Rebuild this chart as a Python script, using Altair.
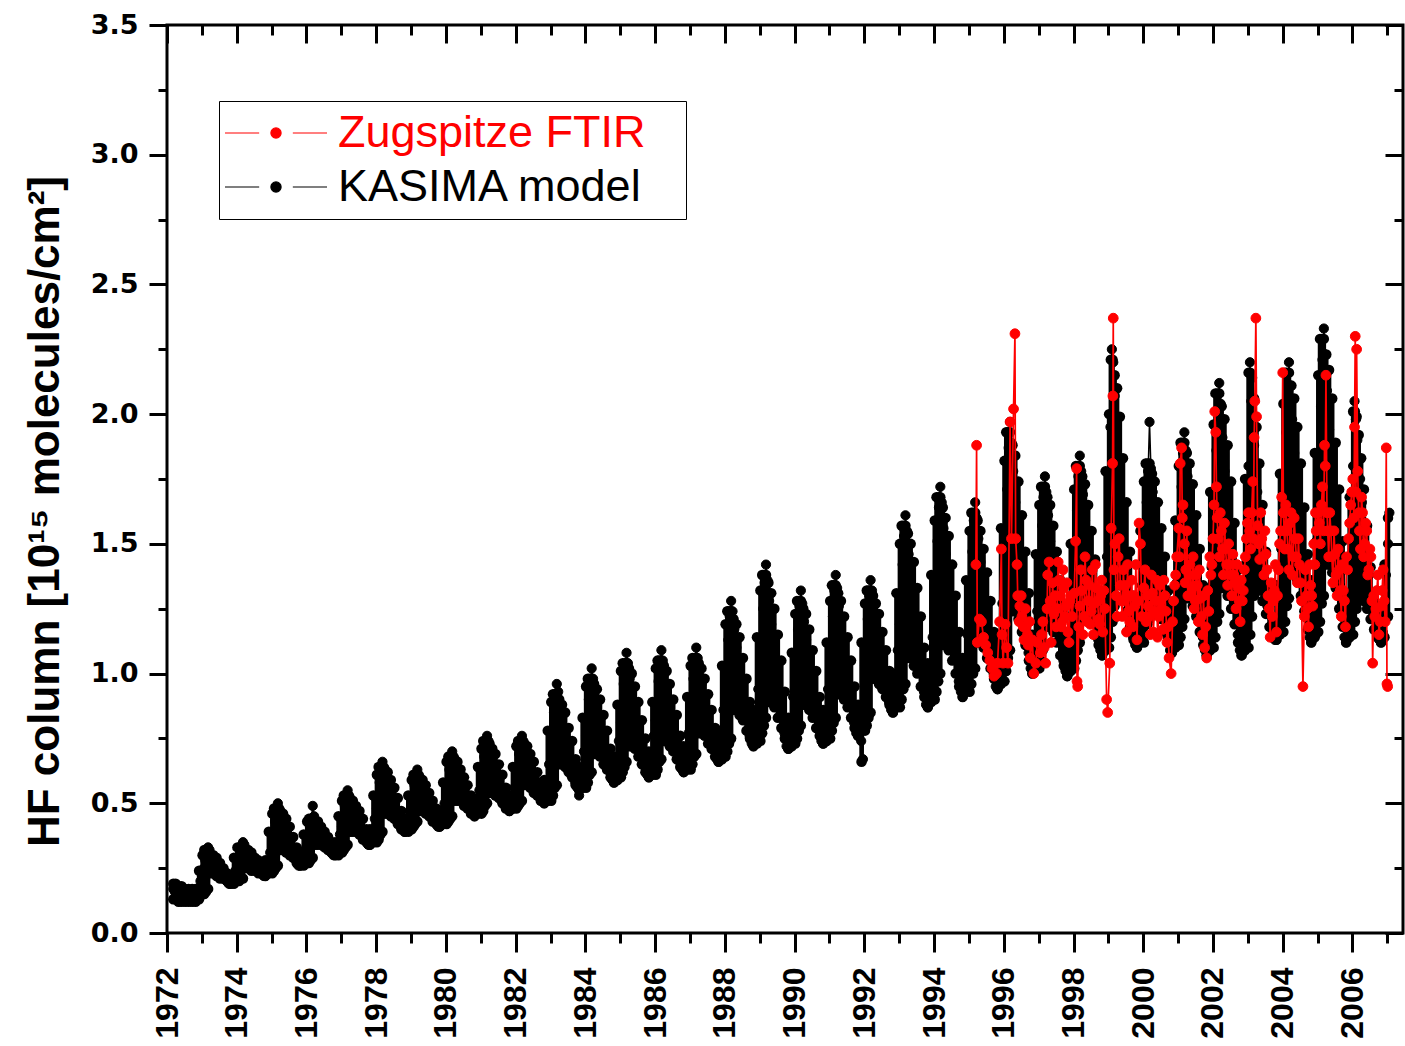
import altair as alt
import pandas as pd

# ---------------- data ----------------
N = None
# KASIMA model: central track of the black trace, at fixed fractions of each year
kasima_frac = [0.02, 0.06, 0.10, 0.14, 0.18, 0.22, 0.27, 0.33, 0.40,
               0.48, 0.56, 0.64, 0.71, 0.77, 0.82, 0.87, 0.91, 0.96]
kasima_mid = {
    1972: [N, N, N, N, .17, .16, .15, .15, .14, .14, .13, .14, .13, .14, .14, .16, .17, .20],
    1973: [.23, .25, .28, .31, .33, .32, .30, .29, .27, .25, .23, .22, .20, .19, .19, .20, .22, .24],
    1974: [.26, .29, .31, .33, .35, .34, .32, .31, .29, .27, .26, .24, .23, .22, .22, .24, .27, .31],
    1975: [.35, .39, .43, .47, .50, .48, .45, .42, .39, .36, .33, .30, .28, .26, .26, .28, .30, .32],
    1976: [.35, .38, .41, .44, .49, .45, .43, .41, .39, .37, .35, .33, .31, .30, .30, .32, .35, .38],
    1977: [.41, .45, .49, .53, .55, .53, .51, .48, .46, .43, .40, .38, .36, .34, .34, .37, .40, .44],
    1978: [.48, .53, .58, .63, .66, .64, .61, .57, .54, .50, .47, .44, .41, .40, .39, .41, .43, .47],
    1979: [.50, .53, .57, .61, .63, .61, .59, .56, .53, .50, .48, .45, .43, .41, .41, .43, .46, .50],
    1980: [.54, .58, .63, .67, .70, .68, .65, .62, .59, .56, .53, .50, .47, .46, .45, .47, .51, .55],
    1981: [.59, .64, .68, .73, .76, .74, .70, .67, .63, .59, .56, .52, .49, .48, .47, .49, .52, .56],
    1982: [.60, .64, .69, .73, .76, .74, .71, .68, .64, .61, .58, .55, .52, .51, .50, .54, .58, .65],
    1983: [.71, .78, .85, .91, .96, .93, .88, .83, .78, .72, .67, .62, .58, .56, .53, .59, .63, .70],
    1984: [.76, .83, .90, .97, 1.02, .98, .93, .88, .82, .76, .71, .66, .62, .59, .58, .62, .67, .74],
    1985: [.81, .88, .96, 1.03, 1.08, 1.04, .98, .93, .86, .80, .74, .69, .64, .61, .60, .64, .69, .76],
    1986: [.82, .89, .97, 1.04, 1.09, 1.05, 1.00, .94, .88, .82, .76, .70, .66, .63, .62, .66, .71, .77],
    1987: [.84, .91, .98, 1.05, 1.10, 1.06, 1.01, .96, .90, .84, .79, .74, .70, .67, .66, .71, .77, .86],
    1988: [.94, 1.03, 1.13, 1.22, 1.28, 1.24, 1.17, 1.10, 1.03, .96, .89, .82, .76, .73, .72, .78, .85, .94],
    1989: [1.04, 1.14, 1.25, 1.35, 1.42, 1.36, 1.28, 1.19, 1.10, 1.01, .92, .84, .77, .72, .71, .76, .82, .91],
    1990: [.98, 1.08, 1.17, 1.26, 1.32, 1.27, 1.20, 1.13, 1.05, .98, .91, .84, .78, .74, .73, .78, .85, .94],
    1991: [1.02, 1.12, 1.22, 1.32, 1.38, 1.33, 1.26, 1.18, 1.10, 1.02, .95, .87, .81, .77, .76, .81, .74, .67],
    1992: [1.03, 1.12, 1.21, 1.30, 1.36, 1.32, 1.26, 1.20, 1.13, 1.06, 1.00, .94, .89, .86, .85, .91, .99, 1.09],
    1993: [1.19, 1.31, 1.42, 1.53, 1.61, 1.55, 1.46, 1.37, 1.28, 1.18, 1.09, 1.00, .93, .88, .87, .94, 1.02, 1.14],
    1994: [1.25, 1.38, 1.51, 1.64, 1.72, 1.66, 1.56, 1.46, 1.36, 1.25, 1.15, 1.06, .97, .93, .91, .97, 1.05, 1.15],
    1995: [1.25, 1.36, 1.47, 1.59, 1.66, 1.60, 1.52, 1.43, 1.34, 1.24, 1.16, 1.07, 1.00, .95, .94, 1.02, 1.13, 1.27],
    1996: [1.40, 1.56, 1.71, 1.87, 1.97, 1.89, 1.78, 1.66, 1.53, 1.41, 1.29, 1.17, 1.08, 1.02, 1.00, 1.06, 1.14, 1.24],
    1997: [1.34, 1.46, 1.57, 1.68, 1.76, 1.70, 1.61, 1.51, 1.41, 1.31, 1.22, 1.13, 1.05, 1.01, .99, 1.06, 1.14, 1.26],
    1998: [1.37, 1.50, 1.63, 1.76, 1.84, 1.78, 1.69, 1.59, 1.49, 1.39, 1.30, 1.21, 1.13, 1.09, 1.07, 1.16, 1.28, 1.45],
    1999: [1.70, 1.95, 2.25, 2.20, 2.07, 1.90, 1.76, 1.62, 1.48, 1.36, 1.27, 1.20, 1.14, 1.11, 1.10, 1.16, 1.24, 1.34],
    2000: [1.44, 1.55, 1.66, 1.78, 1.97, 1.79, 1.70, 1.60, 1.50, 1.40, 1.31, 1.22, 1.14, 1.09, 1.08, 1.15, 1.23, 1.35],
    2001: [1.46, 1.59, 1.72, 1.85, 1.93, 1.86, 1.76, 1.65, 1.54, 1.43, 1.33, 1.22, 1.14, 1.09, 1.07, 1.15, 1.26, 1.41],
    2002: [1.54, 1.70, 1.86, 2.02, 2.12, 2.04, 1.91, 1.78, 1.65, 1.51, 1.39, 1.26, 1.15, 1.09, 1.07, 1.16, 1.27, 1.43],
    2003: [1.80, 2.20, 2.05, 1.95, 1.88, 1.80, 1.70, 1.60, 1.48, 1.36, 1.26, 1.18, 1.14, 1.13, 1.13, 1.22, 1.32, 1.48],
    2004: [1.61, 1.77, 1.93, 2.09, 2.20, 2.11, 1.98, 1.85, 1.71, 1.57, 1.44, 1.31, 1.21, 1.14, 1.12, 1.22, 1.34, 1.51],
    2005: [1.66, 1.85, 2.03, 2.21, 2.33, 2.23, 2.09, 1.94, 1.79, 1.63, 1.48, 1.34, 1.22, 1.14, 1.12, 1.19, 1.29, 1.42],
    2006: [1.80, 2.05, 1.98, 1.90, 1.82, 1.75, 1.66, 1.57, 1.47, 1.38, 1.29, 1.22, 1.16, 1.13, 1.12, 1.16, 1.25, 1.38],
    2007: [1.50, 1.62],
}

# KASIMA model: upper and lower edge of the solid black region
band_frac = [0.02, 0.07, 0.12, 0.18, 0.25, 0.33, 0.42, 0.52, 0.62, 0.72, 0.82, 0.92]
band_high = {
    1972: [N, N, N, .19, .19, .18, .18, .17, .17, .17, .17, .24],
    1973: [.30, .32, .31, .31, .30, .30, .29, .27, .25, .23, .22, .29],
    1974: [.33, .33, .33, .33, .32, .32, .31, .29, .28, .26, .28, .39],
    1975: [.46, .48, .48, .48, .47, .46, .44, .41, .37, .33, .30, .38],
    1976: [.43, .44, .44, .44, .43, .43, .41, .39, .37, .35, .35, .45],
    1977: [.51, .53, .53, .53, .52, .51, .49, .47, .44, .40, .40, .53],
    1978: [.61, .64, .64, .64, .63, .62, .59, .56, .52, .47, .44, .53],
    1979: [.59, .61, .61, .61, .60, .59, .57, .54, .51, .48, .47, .58],
    1980: [.66, .68, .68, .68, .67, .66, .63, .60, .57, .53, .51, .64],
    1981: [.71, .74, .74, .74, .73, .71, .69, .65, .61, .56, .53, .64],
    1982: [.72, .74, .74, .74, .73, .72, .69, .66, .62, .58, .59, .78],
    1983: [.89, .92, .92, .92, .90, .88, .85, .79, .74, .67, .64, .83],
    1984: [.95, .98, .98, .98, .96, .94, .90, .84, .78, .71, .68, .88],
    1985: [1.01, 1.04, 1.04, 1.04, 1.02, 1.00, .95, .89, .82, .75, .70, .89],
    1986: [1.02, 1.05, 1.05, 1.05, 1.03, 1.01, .96, .90, .84, .76, .72, .91],
    1987: [1.03, 1.06, 1.06, 1.06, 1.04, 1.02, .98, .92, .86, .79, .78, 1.03],
    1988: [1.19, 1.24, 1.24, 1.24, 1.21, 1.19, 1.14, 1.06, .98, .89, .86, 1.14],
    1989: [1.32, 1.38, 1.38, 1.38, 1.35, 1.31, 1.25, 1.15, 1.05, .93, .83, 1.08],
    1990: [1.23, 1.28, 1.28, 1.28, 1.25, 1.23, 1.17, 1.09, 1.01, .91, .86, 1.12],
    1991: [1.28, 1.34, 1.34, 1.34, 1.31, 1.28, 1.22, 1.14, 1.05, .95, .88, 1.12],
    1992: [1.27, 1.32, 1.32, 1.32, 1.30, 1.27, 1.23, 1.16, 1.09, 1.01, 1.00, 1.31],
    1993: [1.50, 1.57, 1.57, 1.57, 1.54, 1.50, 1.43, 1.33, 1.22, 1.10, 1.04, 1.38],
    1994: [1.59, 1.68, 1.68, 1.68, 1.64, 1.60, 1.53, 1.42, 1.30, 1.16, 1.06, 1.36],
    1995: [1.55, 1.62, 1.62, 1.62, 1.59, 1.55, 1.48, 1.39, 1.28, 1.16, 1.15, 1.56],
    1996: [1.82, 1.93, 1.93, 1.93, 1.88, 1.84, 1.74, 1.61, 1.47, 1.31, 1.15, 1.46],
    1997: [1.65, 1.72, 1.72, 1.72, 1.68, 1.65, 1.57, 1.47, 1.36, 1.23, 1.16, 1.50],
    1998: [1.71, 1.80, 1.80, 1.80, 1.76, 1.73, 1.65, 1.55, 1.44, 1.31, 1.31, 1.78],
    1999: [2.00, 2.21, 2.21, 2.15, 2.10, 1.99, 1.83, 1.66, 1.47, 1.30, 1.25, 1.55],
    2000: [1.74, 1.81, 1.81, 1.81, 1.77, 1.74, 1.66, 1.56, 1.45, 1.32, 1.25, 1.59],
    2001: [1.80, 1.89, 1.89, 1.89, 1.85, 1.81, 1.73, 1.61, 1.48, 1.34, 1.28, 1.70],
    2002: [1.96, 2.08, 2.08, 2.08, 2.03, 1.98, 1.88, 1.74, 1.58, 1.40, 1.30, 1.75],
    2003: [2.16, 2.16, 2.14, 2.06, 1.95, 1.81, 1.65, 1.47, 1.32, 1.21, 1.34, 1.77],
    2004: [2.04, 2.16, 2.16, 2.16, 2.11, 2.06, 1.95, 1.81, 1.64, 1.46, 1.36, 1.85],
    2005: [2.15, 2.29, 2.29, 2.29, 2.23, 2.17, 2.06, 1.89, 1.71, 1.51, 1.31, 1.68],
    2006: [2.01, 2.01, 1.99, 1.92, 1.83, 1.71, 1.57, 1.41, 1.28, 1.19, 1.22, 1.42],
    2007: [1.60],
}
band_low = {
    1972: [N, N, N, .13, .13, .12, .12, .12, .12, .12, .12, .13],
    1973: [.15, .15, .16, .17, .23, .23, .22, .21, .21, .20, .19, .19],
    1974: [.20, .20, .21, .21, .25, .25, .24, .24, .23, .23, .22, .23],
    1975: [.23, .24, .25, .26, .32, .32, .31, .30, .29, .27, .26, .26],
    1976: [.27, .27, .28, .29, .34, .34, .34, .33, .32, .31, .30, .30],
    1977: [.31, .32, .33, .34, .39, .39, .39, .38, .36, .35, .34, .35],
    1978: [.35, .36, .38, .39, .46, .46, .45, .44, .42, .40, .39, .39],
    1979: [.40, .41, .42, .43, .47, .47, .46, .45, .43, .42, .41, .42],
    1980: [.42, .43, .44, .45, .51, .51, .51, .49, .48, .46, .45, .46],
    1981: [.46, .47, .49, .50, .54, .54, .53, .52, .50, .48, .47, .48],
    1982: [.48, .49, .50, .51, .57, .57, .56, .54, .53, .51, .50, .51],
    1983: [.51, .53, .56, .57, .65, .65, .64, .62, .60, .57, .55, .56],
    1984: [.56, .58, .61, .62, .69, .69, .68, .65, .63, .60, .58, .59],
    1985: [.60, .62, .64, .66, .72, .72, .71, .68, .65, .62, .60, .61],
    1986: [.61, .63, .66, .67, .74, .74, .72, .70, .67, .64, .62, .63],
    1987: [.63, .65, .68, .69, .77, .77, .76, .73, .71, .68, .66, .67],
    1988: [.68, .70, .73, .75, .86, .86, .84, .82, .78, .75, .72, .73],
    1989: [.74, .77, .80, .83, .89, .89, .87, .83, .79, .75, .71, .72],
    1990: [.73, .75, .78, .80, .88, .88, .86, .83, .79, .76, .73, .74],
    1991: [.75, .78, .81, .83, .92, .92, .90, .87, .83, .79, .76, .66],
    1992: [.78, .80, .83, .85, .98, .98, .96, .94, .91, .88, .85, .87],
    1993: [.87, .90, .94, .96, 1.06, 1.06, 1.03, 1.00, .95, .91, .87, .89],
    1994: [.90, .93, .97, 1.00, 1.11, 1.11, 1.09, 1.05, 1.00, .95, .91, .93],
    1995: [.93, .96, 1.00, 1.02, 1.12, 1.12, 1.10, 1.06, 1.02, .98, .94, .96],
    1996: [.97, 1.01, 1.06, 1.09, 1.24, 1.24, 1.21, 1.16, 1.11, 1.05, 1.00, 1.02],
    1997: [1.02, 1.05, 1.09, 1.11, 1.18, 1.18, 1.16, 1.12, 1.07, 1.03, .99, 1.01],
    1998: [1.02, 1.05, 1.09, 1.12, 1.26, 1.26, 1.24, 1.20, 1.15, 1.11, 1.07, 1.09],
    1999: [1.10, 1.14, 1.20, 1.26, 1.36, 1.34, 1.30, 1.24, 1.18, 1.13, 1.10, 1.12],
    2000: [1.12, 1.15, 1.19, 1.21, 1.27, 1.27, 1.25, 1.21, 1.16, 1.12, 1.08, 1.10],
    2001: [1.11, 1.14, 1.18, 1.21, 1.29, 1.29, 1.26, 1.22, 1.16, 1.11, 1.07, 1.09],
    2002: [1.10, 1.14, 1.20, 1.23, 1.33, 1.33, 1.30, 1.25, 1.19, 1.12, 1.07, 1.09],
    2003: [1.10, 1.15, 1.22, 1.30, 1.35, 1.32, 1.28, 1.23, 1.18, 1.15, 1.13, 1.15],
    2004: [1.16, 1.20, 1.26, 1.29, 1.39, 1.39, 1.36, 1.30, 1.24, 1.17, 1.12, 1.14],
    2005: [1.16, 1.20, 1.27, 1.30, 1.42, 1.42, 1.39, 1.33, 1.25, 1.18, 1.12, 1.14],
    2006: [1.15, 1.20, 1.25, 1.28, 1.30, 1.28, 1.25, 1.21, 1.17, 1.14, 1.12, 1.14],
    2007: [1.22],
}

# Zugspitze FTIR measurements (main sequence)
ftir_time = [
    1995.20, 1995.22, 1995.24, 1995.30, 1995.36, 1995.42, 1995.48, 1995.54, 1995.60, 1995.66,
    1995.72, 1995.79, 1995.82, 1995.88, 1995.93, 1995.95, 1995.98,
    1996.04, 1996.08, 1996.12, 1996.18, 1996.22, 1996.28, 1996.32, 1996.34, 1996.40, 1996.46,
    1996.52, 1996.58, 1996.64, 1996.70, 1996.76, 1996.82, 1996.86, 1996.92, 1996.96,
    1997.05, 1997.12, 1997.20, 1997.26, 1997.30, 1997.36, 1997.44, 1997.50, 1997.56, 1997.62,
    1997.68, 1997.72, 1997.78, 1997.84, 1997.90, 1997.96,
    1998.02, 1998.06, 1998.09, 1998.10, 1998.12, 1998.18, 1998.24, 1998.30, 1998.36, 1998.42,
    1998.48, 1998.54, 1998.60, 1998.66, 1998.72, 1998.78, 1998.84, 1998.90, 1998.95, 1998.98,
    1999.04, 1999.08, 1999.12, 1999.13, 1999.14, 1999.16, 1999.22, 1999.28, 1999.34, 1999.40,
    1999.46, 1999.52, 1999.58, 1999.64, 1999.70, 1999.76, 1999.82, 1999.88, 1999.92, 1999.96,
    2000.02, 2000.08, 2000.14, 2000.20, 2000.26, 2000.32, 2000.38, 2000.44, 2000.50, 2000.56,
    2000.62, 2000.68, 2000.74, 2000.80, 2000.84, 2000.90, 2000.96,
    2001.02, 2001.06, 2001.10, 2001.14, 2001.18, 2001.22, 2001.28, 2001.34, 2001.40, 2001.46,
    2001.52, 2001.58, 2001.64, 2001.70, 2001.76, 2001.82, 2001.88, 2001.94,
    2002.00, 2002.05, 2002.08, 2002.12, 2002.18, 2002.24, 2002.30, 2002.36, 2002.42, 2002.48,
    2002.54, 2002.60, 2002.66, 2002.72, 2002.78, 2002.84, 2002.90, 2002.96,
    2003.02, 2003.08, 2003.14, 2003.18, 2003.20, 2003.23, 2003.25, 2003.28, 2003.34, 2003.40,
    2003.46, 2003.52, 2003.58, 2003.64, 2003.70, 2003.76, 2003.82, 2003.88, 2003.94,
    2004.00, 2004.02, 2004.06, 2004.12, 2004.18, 2004.24, 2004.30, 2004.36, 2004.42, 2004.48,
    2004.54, 2004.58, 2004.62, 2004.68, 2004.74, 2004.80, 2004.86, 2004.92, 2004.96,
    2005.02, 2005.08, 2005.14, 2005.20, 2005.24, 2005.27, 2005.32, 2005.38, 2005.44, 2005.50,
    2005.56, 2005.62, 2005.68, 2005.74, 2005.80, 2005.86, 2005.92, 2005.98,
    2006.04, 2006.08, 2006.12, 2006.15, 2006.20, 2006.26, 2006.32, 2006.38, 2006.44, 2006.50,
    2006.56, 2006.58, 2006.64, 2006.70, 2006.76, 2006.82, 2006.88, 2006.94, 2006.97, 2006.99,
    2007.01,
]
ftir_hf = [
    1.42, 1.88, 1.12, 1.21, 1.20, 1.14, 1.11, 1.08, 1.05, 1.02,
    0.99, 1.00, 1.04, 1.20, 1.48, 1.15, 1.04,
    1.19, 1.10, 1.04, 1.97, 1.52, 2.02, 2.31, 1.52, 1.30, 1.26,
    1.22, 1.13, 1.18, 1.11, 1.06, 1.13, 1.00, 1.04, 1.12,
    1.08, 1.20, 1.04, 1.38, 1.43, 1.12, 1.23, 1.18, 1.43, 1.30,
    1.20, 1.33, 1.26, 1.16, 1.28, 1.22,
    1.31, 1.51, 1.79, 0.97, 0.95, 1.26, 1.32, 1.22, 1.36, 1.28,
    1.19, 1.40, 1.27, 1.33, 1.21, 1.30, 1.16, 1.25, 0.90, 0.85,
    1.04, 1.56, 1.81, 2.07, 2.37, 1.40, 1.30, 1.45, 1.34, 1.22,
    1.28, 1.16, 1.24, 1.30, 1.18, 1.26, 1.13, 1.58, 1.50, 1.22,
    1.33, 1.20, 1.26, 1.15, 1.31, 1.24, 1.36, 1.22, 1.28, 1.17,
    1.30, 1.12, 1.06, 1.00, 1.20, 1.34, 1.45,
    1.56, 1.81, 1.87, 1.65, 1.50, 1.40, 1.30, 1.42, 1.33, 1.25,
    1.38, 1.20, 1.29, 1.15, 1.10, 1.06, 1.24, 1.38,
    1.52, 2.01, 1.93, 1.60, 1.45, 1.55, 1.38, 1.48, 1.34, 1.42,
    1.30, 1.38, 1.25, 1.33, 1.20, 1.28, 1.40, 1.52,
    1.62, 1.48, 1.74, 1.91, 2.05, 2.37, 1.99, 1.57, 1.44, 1.52,
    1.38, 1.46, 1.30, 1.14, 1.22, 1.32, 1.16, 1.40, 1.55,
    2.16, 1.62, 1.48, 1.55, 1.40, 1.62, 1.45, 1.52, 1.35, 1.42,
    1.28, 0.95, 1.22, 1.30, 1.18, 1.34, 1.26, 1.42, 1.55,
    1.62, 1.50, 1.72, 1.88, 2.15, 1.62, 1.45, 1.55, 1.35, 1.46,
    1.30, 1.40, 1.22, 1.32, 1.18, 1.40, 1.58, 1.70,
    1.60, 2.30, 2.25, 1.78, 1.55, 1.68, 1.45, 1.58, 1.38, 1.48,
    1.28, 1.04, 1.22, 1.32, 1.15, 1.26, 1.40, 1.20, 1.87, 0.96,
    0.95,
]
# Zugspitze FTIR: further measurements inside the dense red clusters
ftir_time_extra = [
    1996.38, 1996.44, 1996.50, 1996.56, 1996.62, 1996.68, 1996.74,
    1997.08, 1997.16, 1997.24, 1997.33, 1997.40, 1997.47, 1997.53,
    1997.58, 1997.65, 1997.70, 1997.75, 1997.81, 1997.87, 1997.93,
    1998.15, 1998.21, 1998.27, 1998.33, 1998.39, 1998.45, 1998.51, 1998.57, 1998.63, 1998.69,
    1998.75, 1998.81, 1998.87,
    1999.19, 1999.25, 1999.31, 1999.37, 1999.43, 1999.49, 1999.55, 1999.61, 1999.67, 1999.73,
    1999.79, 1999.85,
    2000.05, 2000.11, 2000.17, 2000.23, 2000.29, 2000.35, 2000.41, 2000.47, 2000.53, 2000.59,
    2000.65, 2000.71, 2000.87, 2000.93,
    2001.04, 2001.12, 2001.20, 2001.25, 2001.31, 2001.37, 2001.43, 2001.49, 2001.55, 2001.61,
    2001.67, 2001.73, 2001.79, 2001.85, 2001.91, 2001.97,
    2002.03, 2002.10, 2002.15, 2002.21, 2002.27, 2002.33, 2002.39, 2002.45, 2002.51, 2002.57,
    2002.63, 2002.69, 2002.75, 2002.81, 2002.87, 2002.93, 2002.99,
    2003.05, 2003.11, 2003.16, 2003.31, 2003.37, 2003.43, 2003.49, 2003.55, 2003.61, 2003.67,
    2003.73, 2003.79, 2003.85, 2003.91, 2003.97,
    2004.04, 2004.09, 2004.15, 2004.21, 2004.27, 2004.33, 2004.39, 2004.45, 2004.51, 2004.65,
    2004.71, 2004.77, 2004.83, 2004.89, 2004.94,
    2005.05, 2005.11, 2005.17, 2005.22, 2005.29, 2005.35, 2005.41, 2005.47, 2005.53, 2005.59,
    2005.65, 2005.71, 2005.77, 2005.83, 2005.89, 2005.95,
    2006.01, 2006.06, 2006.10, 2006.18, 2006.23, 2006.29, 2006.35, 2006.41, 2006.47, 2006.53,
    2006.61, 2006.67, 2006.73, 2006.79, 2006.85, 2006.91,
]
ftir_hf_extra = [
    1.42, 1.20, 1.30, 1.18, 1.25, 1.15, 1.20,
    1.15, 1.10, 1.25, 1.28, 1.35, 1.30, 1.25,
    1.36, 1.18, 1.40, 1.22, 1.35, 1.12, 1.30,
    1.18, 1.40, 1.15, 1.45, 1.20, 1.34, 1.24, 1.15, 1.42, 1.28,
    1.19, 1.36, 1.32,
    1.50, 1.22, 1.52, 1.28, 1.40, 1.34, 1.42, 1.20, 1.36, 1.30,
    1.42, 1.28,
    1.40, 1.30, 1.22, 1.38, 1.16, 1.28, 1.14, 1.34, 1.25, 1.36,
    1.24, 1.18, 1.28, 1.38,
    1.45, 1.60, 1.35, 1.55, 1.38, 1.30, 1.45, 1.28, 1.34, 1.40,
    1.22, 1.30, 1.18, 1.32, 1.45, 1.42,
    1.65, 1.72, 1.52, 1.62, 1.48, 1.58, 1.42, 1.50, 1.38, 1.46,
    1.35, 1.42, 1.28, 1.36, 1.32, 1.45, 1.58,
    1.55, 1.62, 1.52, 1.50, 1.62, 1.45, 1.55, 1.40, 1.25, 1.35,
    1.28, 1.42, 1.30, 1.50, 1.68,
    1.55, 1.65, 1.48, 1.58, 1.38, 1.60, 1.45, 1.52, 1.35, 1.40,
    1.25, 1.42, 1.30, 1.50, 1.62,
    1.58, 1.65, 1.55, 1.80, 1.55, 1.62, 1.45, 1.55, 1.38, 1.48,
    1.32, 1.42, 1.28, 1.45, 1.52, 1.65,
    1.75, 1.95, 1.70, 1.62, 1.48, 1.62, 1.50, 1.55, 1.40, 1.45,
    1.30, 1.25, 1.38, 1.20, 1.32, 1.28,
]

series_names = ["Zugspitze FTIR", "KASIMA model"]
series_colors = ["#ff0000", "#000000"]
x_major = list(range(1972, 2007, 2))
x_minor = list(range(1973, 2008, 2))
y_major = [0.0, 0.5, 1.0, 1.5, 2.0, 2.5, 3.0, 3.5]
y_minor = [0.25, 0.75, 1.25, 1.75, 2.25, 2.75, 3.25]

# ---------------- build tables ----------------
krows = []
for year, vals in kasima_mid.items():
    for f, m in zip(kasima_frac, vals):
        if m is not None:
            krows.append({"t": round(year + f, 3), "v": m, "series": "KASIMA model"})
kdf = pd.DataFrame(krows)

brows = []
for year in band_high:
    for f, h, l in zip(band_frac, band_high[year], band_low[year]):
        if h is not None:
            brows.append({"t": round(year + f, 3), "hi": h, "lo": l})
bdf = pd.DataFrame(brows)

fdf = pd.DataFrame({"t": ftir_time + ftir_time_extra,
                    "v": ftir_hf + ftir_hf_extra})
fdf["series"] = "Zugspitze FTIR"
fdf = fdf.sort_values("t").reset_index(drop=True)

xs = alt.Scale(domain=[1972, 2007.45], nice=False, zero=False)
ys = alt.Scale(domain=[0, 3.5], nice=False, zero=False)
cs = alt.Scale(domain=series_names, range=series_colors)

legend_symbol = ("M-1,0L-0.33,0M0.33,0L1,0"
                 "M0.1,0A0.1,0.1,0,1,1,-0.1,0A0.1,0.1,0,1,1,0.1,0Z")
legend = alt.Legend(
    title=".", titleColor="white", titleOrient="right", titleFontSize=8,
    titlePadding=32,
    orient="none", legendX=52, legendY=76, padding=5,
    strokeColor="black", symbolType=legend_symbol, symbolSize=10404,
    symbolStrokeWidth=1.2, clipHeight=54, rowPadding=0, labelOffset=10,
    labelFont="Liberation Sans", labelFontSize=45, labelFontWeight="normal",
    labelLimit=1000,
    labelColor=alt.expr("datum.value == 'Zugspitze FTIR' ? '#ff0000' : '#000000'"),
)

tick_common = dict(tickWidth=3, tickColor="black", domain=False, grid=False, title=None)

ax_bottom_major = alt.Axis(
    orient="bottom", values=x_major, tickSize=19, format="d",
    labelAngle=270, labelAlign="right", labelBaseline="middle",
    labelFont="Liberation Sans", labelFontSize=32, labelFontWeight="bold",
    labelColor="black", labelPadding=15, labelFlush=False, labelOverlap=False,
    labelBound=False, **tick_common)
ax_bottom_minor = alt.Axis(orient="bottom", values=x_minor, tickSize=10, labels=False, **tick_common)
ax_top_major = alt.Axis(orient="top", values=x_major, tickSize=18, offset=-18, labels=False, **tick_common)
ax_top_minor = alt.Axis(orient="top", values=x_minor, tickSize=10, offset=-10, labels=False, **tick_common)

ax_left_major = alt.Axis(
    orient="left", values=y_major, tickSize=18, format=".1f",
    labelFont="DejaVu Sans", labelFontSize=27, labelFontWeight="bold",
    labelColor="black", labelPadding=11, labelFlush=False, labelOverlap=False,
    tickWidth=3, tickColor="black", domain=False, grid=False,
    title="HF column [10\u00b9\u2075 molecules/cm\u00b2]",
    titleFont="Liberation Sans", titleFontSize=44, titleFontWeight="bold",
    titleColor="black", titleAngle=270, titleAlign="center",
    titleBaseline="alphabetic", titleX=-109, titleY=486)
ax_left_minor = alt.Axis(orient="left", values=y_minor, tickSize=9, labels=False, **tick_common)
ax_right_major = alt.Axis(orient="right", values=y_major, tickSize=18, offset=-18, labels=False, **tick_common)
ax_right_minor = alt.Axis(orient="right", values=y_minor, tickSize=9, offset=-9, labels=False, **tick_common)

kbase = alt.Chart(kdf)
bbase = alt.Chart(bdf)
fbase = alt.Chart(fdf)

band_fill = bbase.mark_rule(color="black", strokeWidth=4.5, opacity=1).encode(
    x=alt.X("t:Q", scale=xs, axis=None),
    y=alt.Y("lo:Q", scale=ys, axis=None),
    y2="hi:Q",
)
band_edge = bbase.transform_fold(["hi", "lo"], as_=["edge", "val"]).mark_circle(
    color="black", size=110, opacity=1).encode(
    x=alt.X("t:Q", scale=xs, axis=None),
    y=alt.Y("val:Q", scale=ys, axis=None),
)
black_pts = kbase.mark_point(filled=False, size=85, strokeWidth=1, opacity=1).encode(
    x=alt.X("t:Q", scale=xs, axis=ax_bottom_minor),
    y=alt.Y("v:Q", scale=ys, axis=ax_left_minor),
    stroke=alt.Stroke("series:N", scale=cs, legend=legend),
    fill=alt.Fill("series:N", scale=cs, legend=legend),
)
black_line = kbase.mark_line(strokeWidth=1.5).encode(
    x=alt.X("t:Q", scale=xs, axis=ax_bottom_major),
    y=alt.Y("v:Q", scale=ys, axis=ax_left_major),
    stroke=alt.Stroke("series:N", scale=cs, legend=legend),
)
red_line = fbase.mark_line(strokeWidth=1.7).encode(
    x=alt.X("t:Q", scale=xs, axis=ax_top_major),
    y=alt.Y("v:Q", scale=ys, axis=ax_right_major),
    stroke=alt.Stroke("series:N", scale=cs, legend=legend),
)
red_pts = fbase.mark_point(filled=False, size=95, strokeWidth=1, opacity=1).encode(
    x=alt.X("t:Q", scale=xs, axis=ax_top_minor),
    y=alt.Y("v:Q", scale=ys, axis=ax_right_minor),
    stroke=alt.Stroke("series:N", scale=cs, legend=legend),
    fill=alt.Fill("series:N", scale=cs, legend=legend),
)

chart = alt.layer(band_fill, band_edge, black_pts, black_line, red_line, red_pts).resolve_axis(
    x="independent", y="independent"
).properties(
    width=1236, height=908,
    autosize=alt.AutoSizeParams(type="none"),
    padding={"left": 167, "top": 25, "right": 2, "bottom": 113},
    background="white",
).configure_view(stroke="black", strokeWidth=3)

chart.save("out.html", embed_options={"renderer": "svg", "actions": False})
